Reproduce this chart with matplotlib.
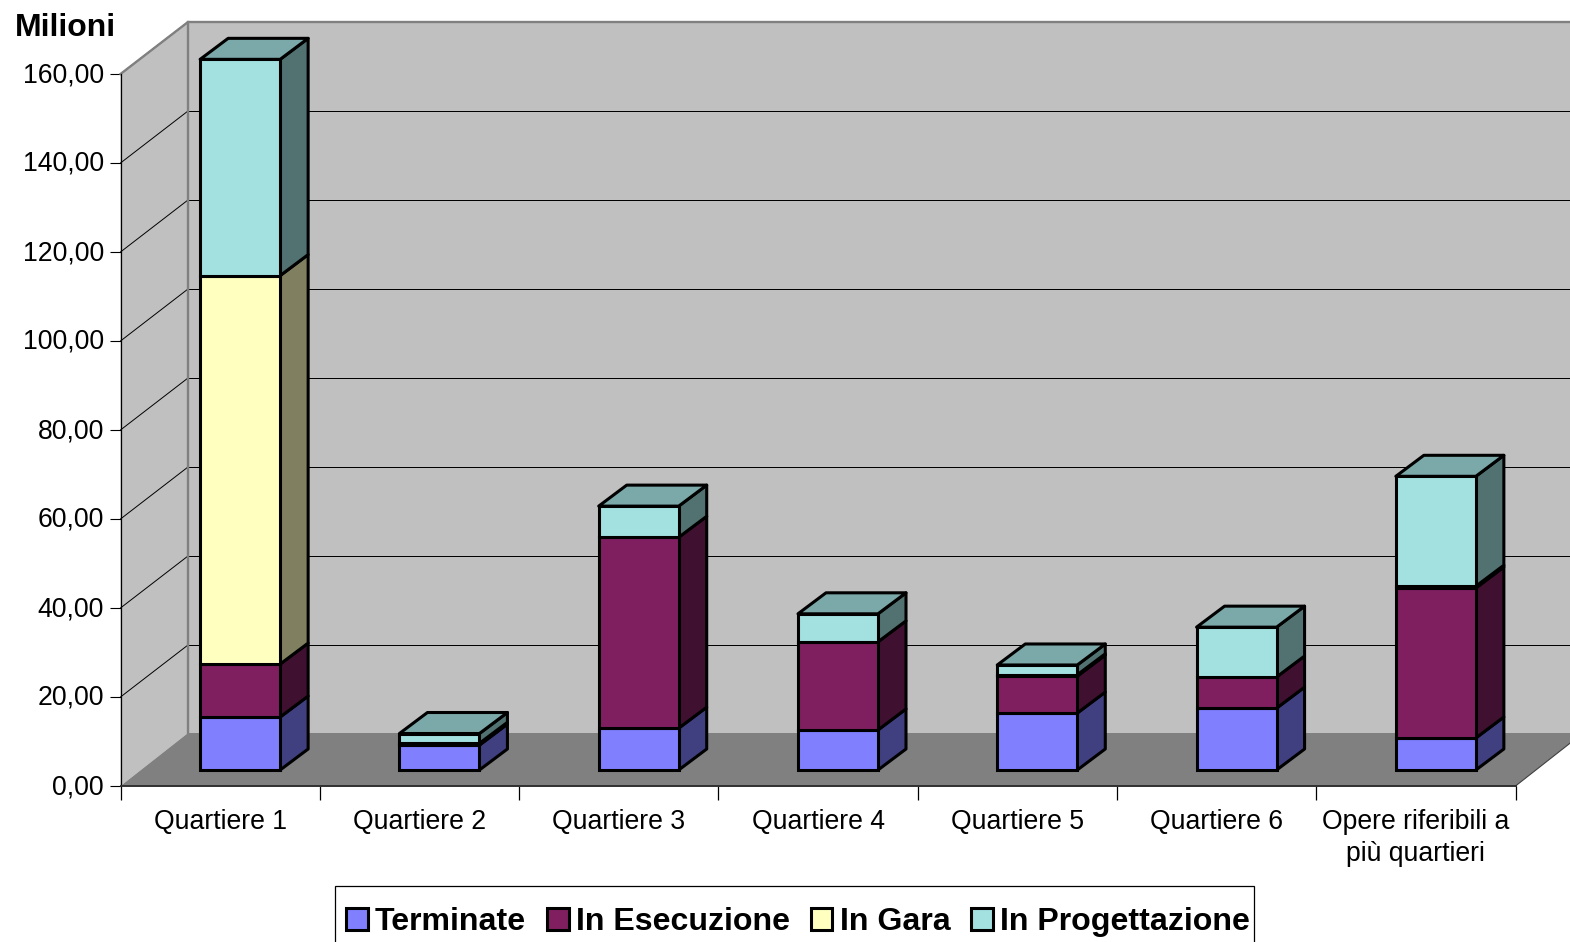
import matplotlib
matplotlib.use('Agg')
import matplotlib.pyplot as plt
from matplotlib.patches import Patch, Rectangle
from matplotlib.ticker import FuncFormatter
from matplotlib.transforms import ScaledTranslation

plt.rcParams['font.family'] = ['Liberation Sans', 'DejaVu Sans']

# Dati (milioni)
quartieri = ['Quartiere 1', 'Quartiere 2', 'Quartiere 3', 'Quartiere 4',
             'Quartiere 5', 'Quartiere 6', 'Opere riferibili a\npiù quartieri']
terminate = [11.9, 5.6, 9.4, 9.0, 12.8, 13.9, 7.2]
in_esecuzione = [11.9, 0.4, 42.9, 19.8, 8.3, 7.0, 33.7]
in_gara = [87.3, 0.0, 0.0, 0.0, 0.3, 0.0, 0.4]
in_progettazione = [48.6, 2.2, 7.0, 6.3, 2.2, 11.2, 24.7]

nomi = ['Terminate', 'In Esecuzione', 'In Gara', 'In Progettazione']
serie = [terminate, in_esecuzione, in_gara, in_progettazione]
colori = ['#8080FF', '#7F1F5F', '#FFFFC0', '#A3E0E0']
colori_lato = ['#404080', '#401030', '#808060', '#527272']
colori_sopra = ['#6060C0', '#5F1747', '#BFBF90', '#7BA8A8']

W, H = 1570, 942
fig = plt.figure(figsize=(W / 100, H / 100), dpi=100)
# il piano frontale del grafico 3D
ax = fig.add_axes([120.5 / W, 1 - 786 / H, 1395 / W, 712 / H])
ax.set_xlim(0, 7)
ax.set_ylim(0, 160)
ax.patch.set_visible(False)

ux = 1395 / 7
uy = 712 / 160
wall_dx, wall_dy = 67.5 / ux, 52 / uy    # profondita' delle pareti
floor_dy = 53 / uy
bar_dx, bar_dy = 28 / ux, 21 / uy        # profondita' delle barre
off_x, off_y = 20 / ux, 16 / uy          # barre spostate dentro il pavimento
larg = 80 / ux
right = (W + 5 - 121) / ux
top = 160 + wall_dy

# pareti e pavimento
ax.fill([0, wall_dx, wall_dx, 0], [0, floor_dy, top, 160], color='#C0C0C0', lw=0, clip_on=False, zorder=1)
ax.fill([wall_dx, right, right, wall_dx], [floor_dy, floor_dy, top, top], color='#C0C0C0', lw=0, clip_on=False, zorder=1)
ax.fill([0, wall_dx, 7 + wall_dx, 7], [0, floor_dy, floor_dy, 0], color='#808080', lw=0, clip_on=False, zorder=2)

# griglia su parete laterale e di fondo
for v in range(20, 161, 20):
    ax.plot([0, wall_dx], [v, v + wall_dy], color='black', lw=0.7, clip_on=False, zorder=3)
    ax.plot([wall_dx, right], [v + wall_dy, v + wall_dy], color='black', lw=0.72, clip_on=False, zorder=3)
ax.plot([0, wall_dx, right], [160, top, top], color='#808080', lw=1.7, clip_on=False, zorder=4)
ax.plot([wall_dx, wall_dx], [floor_dy, top], color='#808080', lw=1.7, clip_on=False, zorder=4)
ax.plot([7, 7 + wall_dx], [0, floor_dy], color='#404040', lw=0.8, clip_on=False, zorder=3)

# barre impilate
z = 5
for i in range(len(quartieri)):
    base = 0.0
    xc = i + 0.5 + off_x
    x1 = xc + larg / 2
    cima = None
    for k in range(4):
        h = serie[k][i]
        if h == 0:
            continue
        y0 = base + off_y
        y1 = y0 + h
        ax.fill([x1, x1 + bar_dx, x1 + bar_dx, x1], [y0, y0 + bar_dy, y1 + bar_dy, y1],
                facecolor=colori_lato[k], edgecolor='black', lw=2.2, joinstyle='round', clip_on=False, zorder=z)
        ax.bar(xc, h, width=larg, bottom=y0, color=colori[k], edgecolor='black', lw=2.2, clip_on=False, zorder=z + 1)
        base += h
        cima = k
    y1 = base + off_y
    ax.fill([x1 - larg, x1, x1 + bar_dx, x1 - larg + bar_dx], [y1, y1, y1 + bar_dy, y1 + bar_dy],
            facecolor=colori_sopra[cima], edgecolor='black', lw=2.2, joinstyle='round', clip_on=False, zorder=z + 1)

# assi
for s in ['top', 'right']:
    ax.spines[s].set_visible(False)
ax.spines['left'].set_linewidth(0.9)
ax.spines['bottom'].set_linewidth(1.4)
ax.spines['bottom'].set_color('#303030')
ax.spines['left'].set_zorder(4)
ax.spines['bottom'].set_zorder(4)
ax.set_yticks(range(0, 161, 20))
ax.yaxis.set_major_formatter(FuncFormatter(lambda v, p: f'{v:.2f}'.replace('.', ',')))
ax.tick_params(axis='y', labelsize=19.2, length=8, width=0.8, pad=4)
# le etichette stanno un po' piu' in alto delle tacche
sposta = ScaledTranslation(0, 2 / 100, fig.dpi_scale_trans)
for lab in ax.get_yticklabels():
    lab.set_transform(lab.get_transform() + sposta)
ax.set_xticks(range(8))
ax.set_xticklabels([])
ax.tick_params(axis='x', which='major', length=10, width=0.9)
ax.set_xticks([i + 0.5 for i in range(7)], minor=True)
ax.set_xticklabels(quartieri, minor=True, fontsize=19.2, linespacing=1.3, va='top')
ax.tick_params(axis='x', which='minor', length=0, pad=16.3)

fig.text(15 / W, 1 - 27.5 / H, 'Milioni', fontsize=23, fontweight='bold', ha='left', va='center')

# legenda
fig.add_artist(Rectangle((335 / W, 1 - 945 / H), 919 / W, 59 / H, transform=fig.transFigure,
                         facecolor='white', edgecolor='black', lw=0.9, zorder=3))
maniglie = [Patch(facecolor=c, edgecolor='black', lw=2.2) for c in colori]
leg = fig.legend(maniglie, nomi, ncol=4, loc='center', bbox_to_anchor=(798 / W, 1 - 922 / H),
                 frameon=False, prop={'weight': 'bold', 'size': 23.1}, columnspacing=0.65,
                 handletextpad=0.22, handlelength=0.68, handleheight=0.68, borderpad=0, borderaxespad=0)
leg.set_zorder(4)

fig.savefig('out.png', dpi=100)
